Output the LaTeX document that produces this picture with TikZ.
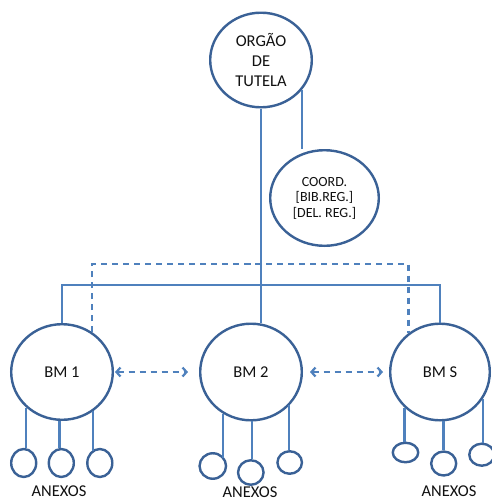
\documentclass[tikz,border=0pt]{standalone}
\usepackage{fontspec}
\setmainfont{Carlito}
\usetikzlibrary{shapes.geometric,arrows.meta}
\definecolor{cline}{HTML}{4F81BD}
\definecolor{cedge}{HTML}{3A6196}
\definecolor{ctext}{HTML}{111111}
\begin{document}
\begin{tikzpicture}[x=1pt,y=-1pt,
  circ/.style={ellipse,draw=cedge,line width=2.4pt,fill=white,inner sep=0pt,text=ctext,align=center},
  bigtext/.style={font=\fontsize{16.5}{20}\selectfont},
  smalltext/.style={font=\fontsize{14}{15.5}\selectfont},
  conn/.style={draw=cline,line width=2.2pt},
  dconn/.style={conn,dash pattern=on 6pt off 5pt},
  darrow/.style={dconn,{Straight Barb[length=4pt,width=9pt,line width=2.2pt]}-{Straight Barb[length=4pt,width=9pt,line width=2.2pt]}},
  lbl/.style={text=ctext,font=\fontsize{16.5}{20}\selectfont,anchor=base,inner sep=0pt}]
\useasboundingbox (0,0) rectangle (491,501);
\fill[white] (0,0) rectangle (491,501);
% main nodes
\node[circ,bigtext,minimum width=101.6pt,minimum height=94.6pt] (top) at (261,60) {ORGÃO\\DE\\TUTELA};
\node[circ,smalltext,minimum width=108.6pt,minimum height=95.6pt] (coord) at (324.5,198) {COORD.\\{[BIB.REG.]}\\{[DEL. REG.]}};
\node[circ,bigtext,minimum width=101.6pt,minimum height=95.6pt] (bm1) at (62,372) {BM 1};
\node[circ,bigtext,minimum width=101.6pt,minimum height=96.6pt] (bm2) at (251,372) {BM 2};
\node[circ,bigtext,minimum width=99.6pt,minimum height=96.6pt] (bms) at (440,372) {BM S};
% annex circles
\node[circ,minimum width=25pt,minimum height=28pt] (a11) at (23.7,463) {};
\node[circ,minimum width=25pt,minimum height=28pt] (a12) at (61.3,463) {};
\node[circ,minimum width=25pt,minimum height=28pt] (a13) at (99.8,463) {};
\node[circ,minimum width=26.5pt,minimum height=25.5pt] (a21) at (212.8,466) {};
\node[circ,minimum width=25.5pt,minimum height=24.5pt] (a22) at (250.8,472.5) {};
\node[circ,minimum width=24.5pt,minimum height=22.5pt] (a23) at (289.7,462.5) {};
\node[circ,minimum width=25.5pt,minimum height=19.5pt] (a31) at (405.5,452.5) {};
\node[circ,minimum width=25pt,minimum height=24pt] (a32) at (443.7,463.5) {};
\node[circ,minimum width=25pt,minimum height=22pt] (a33) at (481.8,454.7) {};
% labels
\node[lbl] (t1) at (59,496.5) {ANEXOS};
\node[lbl] (t2) at (250,497.5) {ANEXOS};
\node[lbl] (t3) at (449,496) {ANEXOS};
% junctions
\coordinate (hj) at (261,285);
\coordinate (dtop) at (250,264);
% solid connectors
\draw[conn] (top.south) -- (hj) -- (hj |- bm2.north);
\draw[conn] (bm1.north) |- (hj) -| (bms.north);
\draw[conn] (top.-36) -- (top.-36 |- coord.north);
% dashed connectors
\draw[dconn] (bm1.53) |- (dtop) -| (bms.129);
\draw[darrow,shorten <=1pt,shorten >=11pt] (bm1.east) -- (bm2.west);
\draw[darrow,shorten <=7pt,shorten >=6pt] (bm2.east) -- (bms.west);
% annex lines
\draw[conn] (bm1.-135.3) -- (bm1.-135.3 |- a11.76);
\draw[conn] (bm1.-93.6) -- (bm1.-93.6 |- a12.99);
\draw[conn] (bm1.-52.1) -- (bm1.-52.1 |- a13.125.6);
\draw[conn] (bm2.-124.4) -- (bm2.-124.4 |- a21.36.6);
\draw[conn] (bm2.-89.2) -- (bm2.-89.2 |- a22.88);
\draw[conn] (bm2.-41.3) -- (bm2.-41.3 |- a23.93);
\draw[conn] (bms.-135.5) -- (bms.-135.5 |- a31.92);
\draw[conn] (bms.-86) -- (bms.-86 |- a32.91);
\draw[conn] (bms.-32.3) -- (bms.-32.3 |- a33.90);
\end{tikzpicture}
\end{document}
